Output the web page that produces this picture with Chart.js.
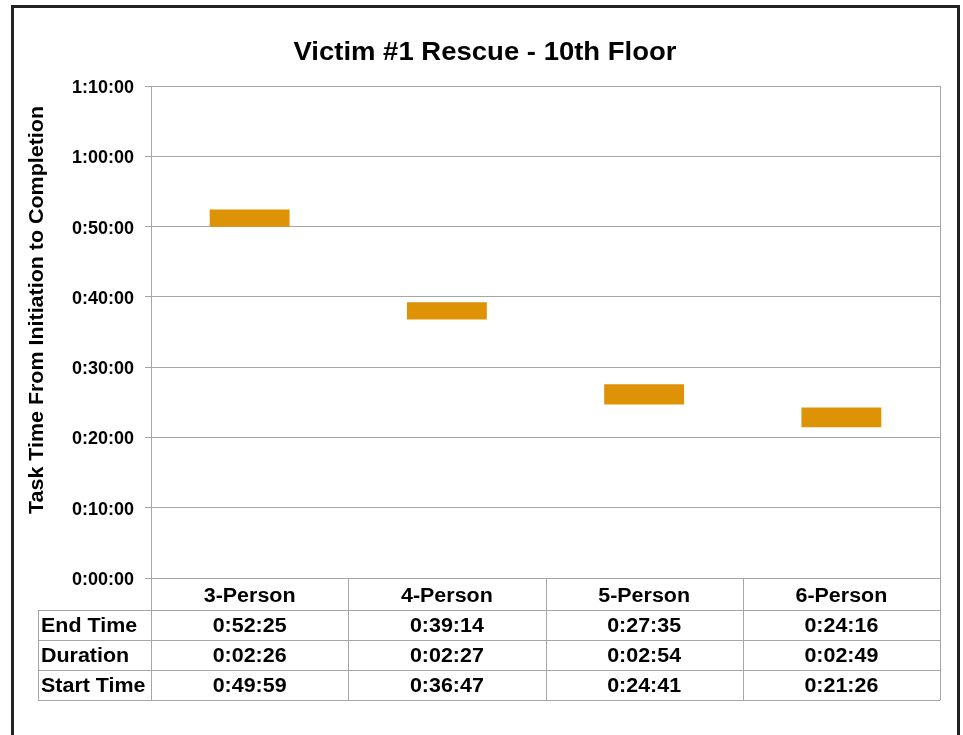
<!DOCTYPE html>
<html>
<head>
<meta charset="utf-8">
<script src="https://cdn.jsdelivr.net/npm/chart.js@4"></script>
<style>
  body { margin: 0; background: #fff; }
  #frame { position: absolute; left: 11px; top: 5px; width: 949px; height: 800px; border: 3px solid #222; box-sizing: border-box; }
  #plot { position: absolute; left: 0; top: 0; }
</style>
</head>
<body>
<div id="frame"></div>
<canvas id="plot" width="963" height="735"></canvas>
<script>
// data
var categories = ['3-Person', '4-Person', '5-Person', '6-Person']
var endTimes = ['0:52:25', '0:39:14', '0:27:35', '0:24:16']
var durations = ['0:02:26', '0:02:27', '0:02:54', '0:02:49']
var startTimes = ['0:49:59', '0:36:47', '0:24:41', '0:21:26']
var rowLabels = ['End Time', 'Duration', 'Start Time']
var yMaxSec = 4200
var yStepSec = 600

var chartTitle = 'Victim #1 Rescue - 10th Floor'
var yTitle = 'Task Time From Initiation to Completion'

var FONT = '"Liberation Sans", Arial, sans-serif'
var LINE = '#a6a6a6'
var STRETCH = 1.1

function toSec(s) {
    var p = s.split(':').map(Number)
    return p[0] * 3600 + p[1] * 60 + p[2]
}

function fmt(v) {
    var h = Math.floor(v / 3600)
    var m = Math.floor((v % 3600) / 60)
    var s = Math.round(v % 60)
    return h + ':' + String(m).padStart(2, '0') + ':' + String(s).padStart(2, '0')
}

// text looks a bit stretched sideways in the reference
function drawText(ctx, text, x, y, align, size, rot) {
    ctx.save()
    ctx.translate(x, y)
    if (rot) ctx.rotate(rot)
    ctx.scale(STRETCH, 1)
    ctx.font = 'bold ' + size + 'px ' + FONT
    ctx.fillStyle = '#000'
    ctx.textAlign = align
    ctx.textBaseline = 'middle'
    ctx.fillText(text, 0, 0)
    ctx.restore()
}

var barData = []
for (var i = 0; i < categories.length; i++) {
    barData.push([toSec(startTimes[i]), toSec(endTimes[i])])
}

// title, y title, right edge and the data table under the plot
var tablePlugin = {
    id: 'tablePlugin',
    afterDraw: function (chart) {
        var ctx = chart.ctx
        var area = chart.chartArea
        var x = chart.scales.x
        var catW = (area.right - area.left) / categories.length
        var headH = 32, rowH = 30
        var tableLeft = 38
        var bottom = area.bottom + headH + rowH * rowLabels.length

        drawText(ctx, chartTitle, 485, 53, 'center', 25)
        drawText(ctx, yTitle, 38, 310, 'center', 19.5, -Math.PI / 2)

        ctx.save()
        ctx.strokeStyle = LINE
        ctx.lineWidth = 1
        ctx.beginPath()
        ctx.moveTo(area.right + 0.5, area.top)
        ctx.lineTo(area.right + 0.5, bottom)
        for (var r = 0; r <= rowLabels.length; r++) {
            var yy = Math.round(area.bottom + headH + rowH * r) + 0.5
            ctx.moveTo(tableLeft, yy)
            ctx.lineTo(area.right, yy)
        }
        ctx.moveTo(tableLeft + 0.5, area.bottom + headH)
        ctx.lineTo(tableLeft + 0.5, bottom)
        for (var c = 0; c < categories.length; c++) {
            var xl = Math.round(area.left + catW * c) + 0.5
            ctx.moveTo(xl, area.bottom)
            ctx.lineTo(xl, bottom)
        }
        ctx.stroke()
        ctx.restore()

        var rows = [endTimes, durations, startTimes]
        for (var k = 0; k < categories.length; k++) {
            var cx = x.getPixelForValue(k)
            drawText(ctx, categories[k], cx, area.bottom + headH / 2 + 3, 'center', 19.5)
            for (var j = 0; j < rows.length; j++) {
                drawText(ctx, rows[j][k], cx, area.bottom + headH + rowH * j + rowH / 2 + 2, 'center', 19.5)
            }
        }
        for (var j2 = 0; j2 < rowLabels.length; j2++) {
            drawText(ctx, rowLabels[j2], 41, area.bottom + headH + rowH * j2 + rowH / 2 + 2, 'left', 19.5)
        }
    }
}

var config = {
    type: 'bar',
    data: {
        labels: categories,
        datasets: [{
            data: barData,
            backgroundColor: '#de9206',
            borderWidth: 0,
            barPercentage: 0.405,
            categoryPercentage: 1
        }]
    },
    options: {
        responsive: false,
        animation: false,
        layout: { padding: { top: 86, right: 23, bottom: 157, left: 0 } },
        scales: {
            x: { display: false, offset: true, grid: { display: false } },
            y: {
                min: 0,
                max: yMaxSec,
                afterFit: function (s) { s.width = 151 },
                ticks: {
                    stepSize: yStepSec,
                    callback: function (v) { return fmt(v) },
                    font: { family: FONT, size: 18, weight: 'bold' },
                    color: '#000',
                    padding: 11,
                    labelOffset: 2
                },
                grid: { color: LINE, tickLength: 6 },
                border: { color: LINE }
            }
        },
        plugins: { legend: { display: false }, tooltip: { enabled: false }, title: { display: false } }
    },
    plugins: [tablePlugin]
}

var barchart = new Chart(document.getElementById('plot'), config)
</script>
</body>
</html>
